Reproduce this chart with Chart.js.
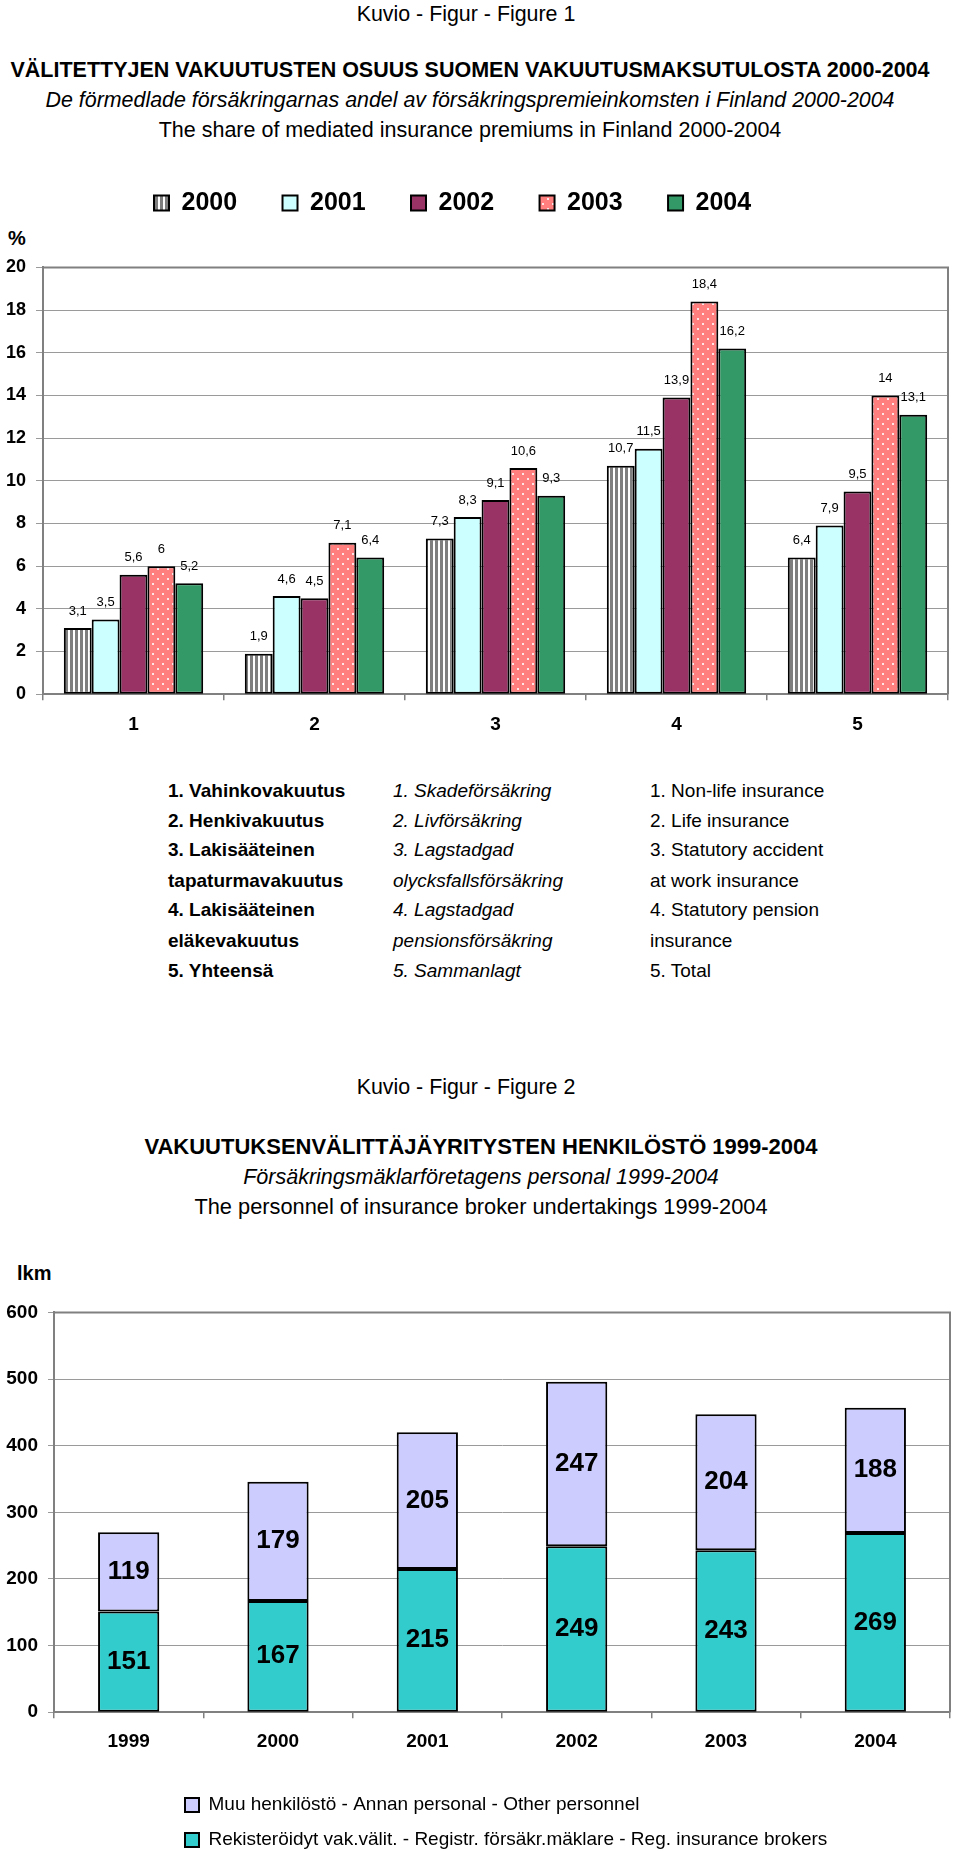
<!DOCTYPE html>
<html><head><meta charset="utf-8">
<script src="https://cdn.jsdelivr.net/npm/chart.js@4.4.1/dist/chart.umd.min.js"></script>
<style>
body{margin:0;background:#fff;}
#page{position:relative;width:960px;height:1851px;font-family:"Liberation Sans",Arial,sans-serif;color:#000;overflow:hidden;background:#fff}
.c{position:absolute;text-align:center;line-height:24px;white-space:nowrap}
.k{left:0;width:932px}
.h1{left:0;width:940px}
.h2{left:0;width:962px}
.t{position:absolute;line-height:24px;white-space:nowrap;font-size:19px}
.b{font-weight:bold}.i{font-style:italic}
canvas{position:absolute;left:0}
</style></head><body>
<div id="page">
<div class="c k" style="top:2px;font-size:21.4px">Kuvio - Figur - Figure 1</div>
<div class="c h1 b" style="top:58px;font-size:21.5px">VÄLITETTYJEN VAKUUTUSTEN OSUUS SUOMEN VAKUUTUSMAKSUTULOSTA 2000-2004</div>
<div class="c h1 i" style="top:88px;font-size:21.4px">De förmedlade försäkringarnas andel av försäkringspremieinkomsten i Finland 2000-2004</div>
<div class="c h1" style="top:118px;font-size:21.5px">The share of mediated insurance premiums in Finland 2000-2004</div>
<div class="t b" style="left:8px;top:226px;font-size:20px">%</div>
<canvas id="c1" width="960" height="602" style="top:151px"></canvas>

<div class="t b" style="left:168px;top:779px">1. Vahinkovakuutus</div>
<div class="t b" style="left:168px;top:809px">2. Henkivakuutus</div>
<div class="t b" style="left:168px;top:838px">3. Lakisääteinen</div>
<div class="t b" style="left:168px;top:869px">tapaturmavakuutus</div>
<div class="t b" style="left:168px;top:898px">4. Lakisääteinen</div>
<div class="t b" style="left:168px;top:929px">eläkevakuutus</div>
<div class="t b" style="left:168px;top:959px">5. Yhteensä</div>

<div class="t i" style="left:393px;top:779px">1. Skadeförsäkring</div>
<div class="t i" style="left:393px;top:809px">2. Livförsäkring</div>
<div class="t i" style="left:393px;top:838px">3. Lagstadgad</div>
<div class="t i" style="left:393px;top:869px">olycksfallsförsäkring</div>
<div class="t i" style="left:393px;top:898px">4. Lagstadgad</div>
<div class="t i" style="left:393px;top:929px">pensionsförsäkring</div>
<div class="t i" style="left:393px;top:959px">5. Sammanlagt</div>

<div class="t" style="left:650px;top:779px">1. Non-life insurance</div>
<div class="t" style="left:650px;top:809px">2. Life insurance</div>
<div class="t" style="left:650px;top:838px">3. Statutory accident</div>
<div class="t" style="left:650px;top:869px">at work insurance</div>
<div class="t" style="left:650px;top:898px">4. Statutory pension</div>
<div class="t" style="left:650px;top:929px">insurance</div>
<div class="t" style="left:650px;top:959px">5. Total</div>

<div class="c k" style="top:1075px;font-size:21.4px">Kuvio - Figur - Figure 2</div>
<div class="c h2 b" style="top:1135px;font-size:22px">VAKUUTUKSENVÄLITTÄJÄYRITYSTEN HENKILÖSTÖ 1999-2004</div>
<div class="c h2 i" style="top:1165px;font-size:21.5px">Försäkringsmäklarföretagens personal 1999-2004</div>
<div class="c h2" style="top:1195px;font-size:21.8px">The personnel of insurance broker undertakings 1999-2004</div>
<div class="t b" style="left:17px;top:1261px;font-size:20px">lkm</div>
<canvas id="c2" width="960" height="560" style="top:1291px"></canvas>
</div>
<script>
// ---------- Figure 1 data ----------
const categories1 = ['1', '2', '3', '4', '5'];
const seriesNames1 = ['2000', '2001', '2002', '2003', '2004'];
const values2000 = [3.1, 1.9, 7.3, 10.7, 6.4];
const values2001 = [3.5, 4.6, 8.3, 11.5, 7.9];
const values2002 = [5.6, 4.5, 9.1, 13.9, 9.5];
const values2003 = [6, 7.1, 10.6, 18.4, 14];
const values2004 = [5.2, 6.4, 9.3, 16.2, 13.1];
const yTicks1 = [0, 2, 4, 6, 8, 10, 12, 14, 16, 18, 20];

// ---------- Figure 2 data ----------
const categories2 = ['1999', '2000', '2001', '2002', '2003', '2004'];
const brokers = [151, 167, 215, 249, 243, 269];
const otherStaff = [119, 179, 205, 247, 204, 188];
const seriesNames2 = [
  'Rekisteröidyt vak.välit. - Registr. försäkr.mäklare - Reg. insurance brokers',
  'Muu henkilöstö - Annan personal - Other personnel'
];
const yTicks2 = [0, 100, 200, 300, 400, 500, 600];

Chart.defaults.font.family = '"Liberation Sans", Arial, sans-serif';
Chart.defaults.color = '#000';
Chart.defaults.animation = false;

function makePattern(ctx, w, h, draw) {
  const c = document.createElement('canvas'); c.width = w; c.height = h;
  const x = c.getContext('2d'); draw(x, w, h);
  return ctx.createPattern(c, 'repeat');
}

const valueLabels = {
  id: 'valueLabels',
  afterDatasetsDraw(chart, args, opts) {
    const ctx = chart.ctx; ctx.save();
    ctx.font = opts.font; ctx.fillStyle = '#000';
    ctx.textAlign = 'center'; ctx.textBaseline = 'middle';
    chart.data.datasets.forEach((ds, i) => {
      const meta = chart.getDatasetMeta(i);
      meta.data.forEach((el, j) => {
        const txt = String(ds.data[j]).replace('.', ',');
        const y = opts.mode === 'center' ? (el.y + el.base) / 2 : el.y - opts.offset;
        ctx.fillText(txt, el.x, y);
      });
    });
    ctx.restore();
  }
};
const plotBorder = {
  id: 'plotBorder',
  beforeDatasetsDraw(chart, args, opts) {
    const {left, top, right, bottom} = chart.chartArea;
    const ctx = chart.ctx; ctx.save();
    ctx.strokeStyle = opts.color || '#808080'; ctx.lineWidth = opts.width || 2;
    ctx.beginPath();
    ctx.moveTo(left, top); ctx.lineTo(right, top); ctx.lineTo(right, bottom);
    ctx.stroke(); ctx.restore();
  }
};
const placeLegend = {
  id: 'placeLegend',
  afterLayout(chart, args, opts) {
    const lg = chart.legend; if (!lg || opts.x == null) return;
    const lo = lg.options.labels; const P = lo.padding;
    const fs = lo.font.size; const ih = Math.max(fs, lo.boxHeight || fs);
    const curX = lg.options.align === 'start' ? lg.left + P : (lg.left + P + lg.right - lg.lineWidths[0]) / 2;
    const curY = lg.top + P + ih / 2;
    const dx = opts.x - curX, dy = opts.y - curY;
    lg.left += dx; lg.right += dx; lg.top += dy; lg.bottom += dy;
  }
};

// ---------- Chart 1 ----------
const c1 = document.getElementById('c1');
const ctx1 = c1.getContext('2d');
const stripePat = makePattern(ctx1, 5, 10, (x, w, h) => {
  x.fillStyle = '#ffffff'; x.fillRect(0, 0, w, h);
  x.fillStyle = '#7f7f7f'; x.fillRect(0, 0, 3, h);
});
const dotPat = makePattern(ctx1, 10, 10, (x, w, h) => {
  x.fillStyle = '#ff7f7f'; x.fillRect(0, 0, w, h);
  x.fillStyle = 'rgba(255,235,235,0.95)';
  x.fillRect(2, 2, 2, 2); x.fillRect(7, 7, 2, 2);
});
const fills1 = [stripePat, '#ccffff', '#993366', dotPat, '#339966'];
const vals1 = [values2000, values2001, values2002, values2003, values2004];

new Chart(ctx1, {
  type: 'bar',
  data: {
    labels: categories1,
    datasets: seriesNames1.map((n, i) => ({
      label: n, data: vals1[i], backgroundColor: fills1[i],
      borderColor: '#000', borderWidth: 2, borderSkipped: false,
      categoryPercentage: 0.77, barPercentage: 1
    }))
  },
  options: {
    responsive: false,
    layout: {padding: {top: 36, bottom: 4, left: 0, right: 12}},
    plugins: {
      legend: {
        position: 'top', align: 'center',
        labels: {font: {size: 25, weight: 'bold'}, boxWidth: 15, boxHeight: 15, padding: 45.4, color: '#000'}
      },
      tooltip: {enabled: false},
      valueLabels: {font: '13px "Liberation Sans", Arial, sans-serif', offset: 17},
      plotBorder: {color: '#808080', width: 2},
      placeLegend: {x: 154, y: 203 - 151}
    },
    scales: {
      x: {
        grid: {drawOnChartArea: false, drawTicks: true, tickLength: 6, color: '#808080', offset: true, lineWidth: 1.5},
        border: {color: '#808080', width: 2},
        ticks: {font: {size: 19, weight: 'bold'}, padding: 13, color: '#000'}
      },
      y: {
        min: yTicks1[0], max: yTicks1[yTicks1.length - 1],
        afterBuildTicks: s => { s.ticks = yTicks1.map(v => ({value: v})); },
        afterFit: s => { s.width = 43; },
        grid: {color: '#9a9a9a', lineWidth: 1, tickLength: 7, drawTicks: true},
        border: {color: '#808080', width: 2},
        ticks: {font: {size: 18, weight: 'bold'}, padding: 10, color: '#000'}
      }
    }
  },
  plugins: [plotBorder, valueLabels, placeLegend]
});

// ---------- Chart 2 ----------
const c2 = document.getElementById('c2');
const ctx2 = c2.getContext('2d');
new Chart(ctx2, {
  type: 'bar',
  data: {
    labels: categories2,
    datasets: [
      {label: seriesNames2[0], data: brokers, backgroundColor: '#33cccc'},
      {label: seriesNames2[1], data: otherStaff, backgroundColor: '#ccccff'}
    ].map(d => Object.assign(d, {borderColor: '#000', borderWidth: 2, borderSkipped: false, categoryPercentage: 0.41, barPercentage: 1}))
  },
  options: {
    responsive: false,
    layout: {padding: {top: 20, bottom: 6, left: 0, right: 10}},
    plugins: {
      legend: {
        position: 'bottom', align: 'start', reverse: true,
        labels: {font: {size: 19}, boxWidth: 14, boxHeight: 14, padding: 16, color: '#000'}
      },
      tooltip: {enabled: false},
      valueLabels: {font: 'bold 26px "Liberation Sans", Arial, sans-serif', mode: 'center'},
      plotBorder: {color: '#808080', width: 2},
      placeLegend: {x: 185, y: 1805 - 1291}
    },
    scales: {
      x: {
        stacked: true,
        grid: {drawOnChartArea: false, drawTicks: true, tickLength: 6, color: '#808080', offset: true, lineWidth: 1.5},
        border: {color: '#808080', width: 2},
        ticks: {font: {size: 19, weight: 'bold'}, padding: 12, color: '#000'}
      },
      y: {
        stacked: true,
        min: yTicks2[0], max: yTicks2[yTicks2.length - 1],
        afterBuildTicks: s => { s.ticks = yTicks2.map(v => ({value: v})); },
        afterFit: s => { s.width = 54; },
        grid: {color: '#9a9a9a', lineWidth: 1, tickLength: 6, drawTicks: true},
        border: {color: '#808080', width: 2},
        ticks: {font: {size: 19, weight: 'bold'}, padding: 10, color: '#000'}
      }
    }
  },
  plugins: [plotBorder, valueLabels, placeLegend]
});
</script>
</body></html>
